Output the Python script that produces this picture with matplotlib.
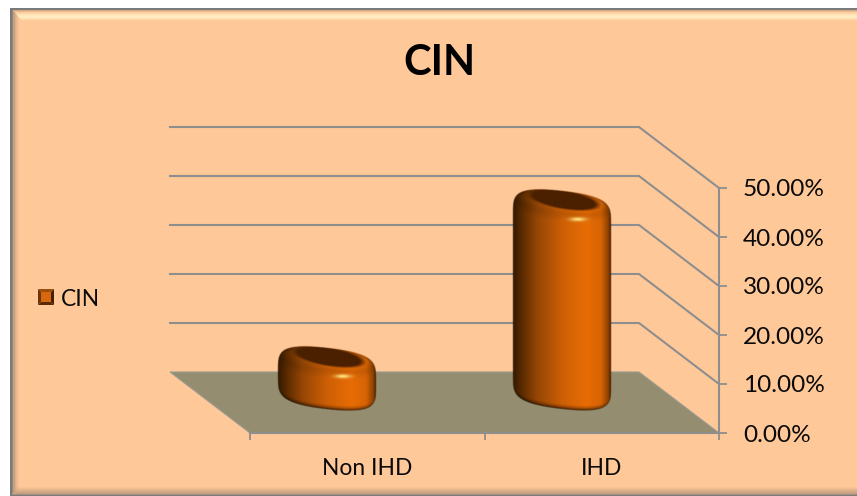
import numpy as np
import matplotlib
matplotlib.use("Agg")
import matplotlib.pyplot as plt
from matplotlib.patches import Polygon

categories = ["Non IHD", "IHD"]
cin_values = [6.2, 38.2]
value_ticks = [0, 10, 20, 30, 40, 50]
value_labels = ["0.00%", "10.00%", "20.00%", "30.00%", "40.00%", "50.00%"]
series_name = "CIN"

PEACH = np.array([255, 200, 152]) / 255
GRID = "#8e8e8e"
FLOOR = "#948d70"

W, H = 857, 496
PX_X = 469 / 2   # pixels per category
PX_Y = 245 / 50  # pixels per percent
DEPTH_X = 80 / PX_X
DEPTH_Y = 61 / PX_Y
BAR_LIFT = 39 / PX_Y
BAR_R = 49


def frame_image():
    img = np.ones((H, W, 3))
    img[8:, 10:] = PEACH
    tan = np.array([196, 158, 128]) / 255
    cream = np.array([255, 236, 192]) / 255
    grey = np.array([122, 122, 122]) / 255
    # bevel on the top edge
    for y, col, a in [(8, grey, 1), (9, grey, 1), (10, tan, .7), (11, tan, .4), (12, cream, .2),
                      (13, cream, .4), (14, cream, .7), (15, cream, .9), (16, cream, 1),
                      (17, cream, 1), (18, cream, .7), (19, cream, .4), (20, cream, .15)]:
        img[y, 10 + (y - 8):] = (1 - a) * img[y, 10 + (y - 8):] + a * col
    # bevel on the left edge
    for x, col, a in [(10, grey, 1), (11, grey, 1), (12, grey, .8), (13, tan, 1), (14, tan, .9),
                      (15, tan, .6), (16, tan, .4), (17, tan, .25), (18, tan, .12)]:
        img[8 + (x - 10):H - (x - 10), x] = (1 - a) * img[8 + (x - 10):H - (x - 10), x] + a * col
    # bevel on the bottom edge
    for y, col, a in [(487, tan, .1), (488, tan, .25), (489, tan, .4), (490, tan, .55), (491, tan, .7),
                      (492, tan, .85), (493, tan, 1), (494, grey, .7), (495, grey, 1)]:
        img[y, 10 + (495 - y):] = (1 - a) * img[y, 10 + (495 - y):] + a * col
    return img


def smooth(mask, sigma):
    # separable gaussian, used to round off the outline's corners
    half = int(3 * sigma)
    kernel = np.exp(-0.5 * (np.arange(-half, half + 1) / sigma) ** 2)
    kernel /= kernel.sum()
    out = np.apply_along_axis(lambda r: np.convolve(r, kernel, mode="same"), 0, mask)
    return np.apply_along_axis(lambda r: np.convolve(r, kernel, mode="same"), 1, out)


def column_image(height):
    # shaded rounded cylinder, local coordinates in pixels from the top centre
    step = 0.5
    xs = np.arange(-BAR_R - 16, BAR_R + 16 + step, step)
    ys = np.arange(-34, height + 34 + step, step)
    x, y = np.meshgrid(xs, ys)
    u = np.clip(x / BAR_R, -1, 1)
    shear = 0.11
    b = 15.5
    arc = b * (1 - np.abs(u) ** 2.5) ** (1 / 2.5)
    y_low = shear * x + arc
    y_top = shear * x - arc
    y_bot = height + shear * x + arc

    stops = [-1, -.85, -.5, 0, .5, .8, .95, 1]
    reds = [50, 85, 150, 205, 232, 215, 140, 70]
    greens = [25, 40, 70, 95, 108, 100, 65, 30]
    blues = [0, 0, 5, 5, 5, 5, 0, 0]
    rgb = np.dstack([np.interp(u, stops, c) for c in (reds, greens, blues)]) / 255

    # shoulder under the top face, a touch darker than the wall
    d = y - y_low
    rgb = rgb * (1 - 0.1 * np.clip(1 - np.abs(d + 8) / 8, 0, 1))[..., None]

    # darker rim along the bottom and the top outline
    low = np.clip(1 - (y_bot - y) / 6, 0, 1) ** 2
    rgb = rgb * (1 - 0.75 * low)[..., None]
    up = np.clip(1 - (y - y_top) / 4, 0, 1)
    rgb = rgb * (1 - 0.3 * up)[..., None]

    # top face
    fx = (x - 2) / 38
    fy = (y + 6.5 - 0.15 * (x - 2)) / 10
    face = np.clip((1 - (fx ** 2 + fy ** 2)) * 3, 0, 1)[..., None]
    rgb = (1 - face) * rgb + face * np.array([74, 32, 0]) / 255

    # small specular spot
    spot = np.exp(-((x - 16) / 8) ** 2 - ((y - 13) / 2) ** 2)[..., None]
    rgb = (1 - spot) * rgb + spot * np.array([255, 228, 130]) / 255

    inside = (np.abs(x) <= BAR_R) & (y >= y_top) & (y <= y_bot)
    blurred = smooth(inside.astype(float), 10)
    alpha = np.clip((blurred - 0.5) * 16 + 0.5, 0, 1)
    return np.dstack([np.clip(rgb, 0, 1), alpha]), xs, ys


fig = plt.figure(figsize=(W / 100, H / 100), dpi=100)
plt.rcParams["font.family"] = ["Lato", "DejaVu Sans"]

bg = fig.add_axes([0, 0, 1, 1], zorder=0)
bg.imshow(frame_image(), aspect="auto", interpolation="nearest")
bg.axis("off")

ax = fig.add_axes([250 / W, (H - 433) / H, 469 / W, 245 / H], zorder=1)
ax.patch.set_alpha(0)

# floor
ax.add_patch(Polygon([(0, 0), (2, 0), (2 - DEPTH_X, DEPTH_Y), (-DEPTH_X, DEPTH_Y)],
                     closed=True, facecolor=FLOOR, edgecolor="#9a9a92", linewidth=0.8,
                     clip_on=False, zorder=1))
# back wall and side wall lines
for v in value_ticks[1:]:
    ax.plot([-DEPTH_X, 2 - DEPTH_X, 2], [v + DEPTH_Y, v + DEPTH_Y, v], color=GRID,
            linewidth=1.5, clip_on=False, zorder=1, solid_joinstyle="miter")

# columns
for i, val in enumerate(cin_values):
    img, xs, ys = column_image(val * PX_Y)
    cx = i + 0.5 - DEPTH_X / 2
    top = val + BAR_LIFT
    ax.imshow(img, origin="upper", aspect="auto", interpolation="bilinear", zorder=3, clip_on=False,
              extent=(cx + xs[0] / PX_X, cx + xs[-1] / PX_X, top - ys[-1] / PX_Y, top - ys[0] / PX_Y))

ax.set_xlim(0, 2)
ax.set_ylim(0, 50)

for side in ("left", "top"):
    ax.spines[side].set_visible(False)
for side in ("right", "bottom"):
    ax.spines[side].set_color(GRID)
    ax.spines[side].set_linewidth(1.5)

ax.yaxis.tick_right()
ax.set_yticks(value_ticks)
ax.set_yticklabels(value_labels, fontsize=17.6, color="#0a0a0a")
ax.tick_params(axis="y", length=5.8, width=1.3, color=GRID, pad=11.5)

ax.set_xticks([0, 1, 2])
ax.set_xticklabels([])
ax.set_xticks([0.5, 1.5], minor=True)
ax.set_xticklabels(categories, minor=True, fontsize=16.4, color="#0a0a0a")
ax.tick_params(axis="x", which="major", length=5, width=1.3, color=GRID)
ax.tick_params(axis="x", which="minor", length=0, pad=18)

fig.text(439 / W, 1 - 63 / H, series_name, ha="center", va="center", fontsize=30, fontweight="bold", color="black")

# legend entry
fig.text(61 / W, 1 - 299 / H, series_name, ha="left", va="center", fontsize=16.4, color="#0a0a0a")
key = fig.add_axes([38 / W, 1 - 305 / H, 16 / W, 16 / H], zorder=2)
key.set_xlim(0, 1)
key.set_ylim(0, 1)
key.axis("off")
key.add_patch(Polygon([(0, 1), (1, 1), (.8, .8), (.2, .8)], facecolor="#9c4e0c", linewidth=0))
key.add_patch(Polygon([(0, 0), (1, 0), (.8, .2), (.2, .2)], facecolor="#5a2a04", linewidth=0))
key.add_patch(Polygon([(0, 0), (0, 1), (.2, .8), (.2, .2)], facecolor="#6e3406", linewidth=0))
key.add_patch(Polygon([(1, 0), (1, 1), (.8, .8), (.8, .2)], facecolor="#44200a", linewidth=0))
key.add_patch(Polygon([(.2, .2), (.8, .2), (.8, .8), (.2, .8)], facecolor="#d8680e", linewidth=0))

fig.savefig("out.png", dpi=100)
